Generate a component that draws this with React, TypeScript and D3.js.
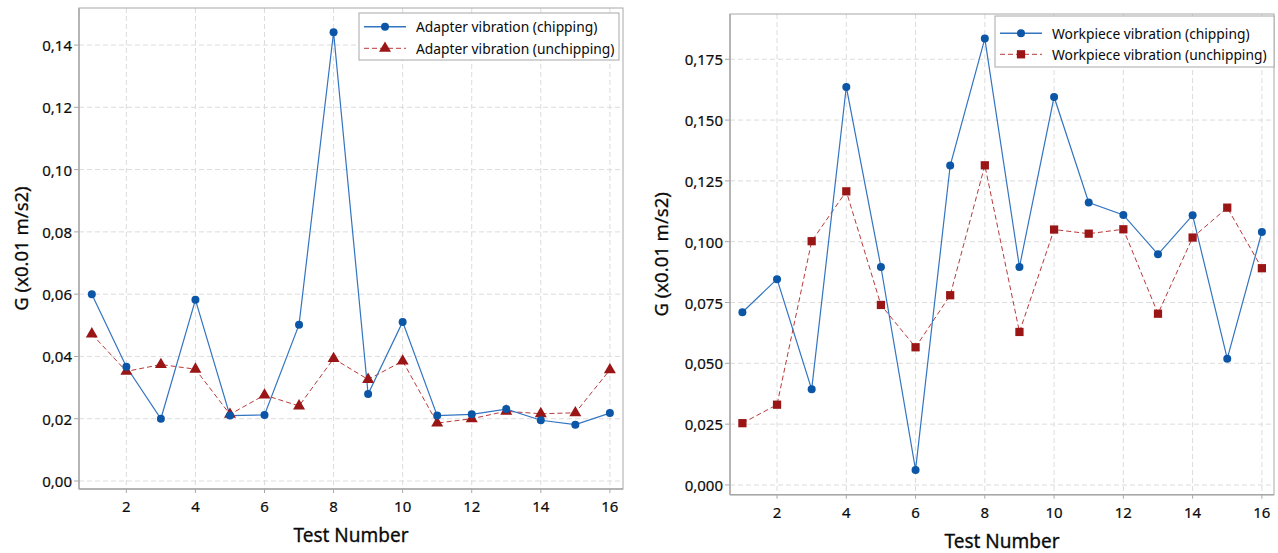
import React from "react";
import * as d3 from "d3";

// ---------- data ----------
const testNumbers = [1, 2, 3, 4, 5, 6, 7, 8, 9, 10, 11, 12, 13, 14, 15, 16];
const xTickValues = [2, 4, 6, 8, 10, 12, 14, 16];

const adapterChipping = [0.060, 0.0367, 0.020, 0.0582, 0.021, 0.0212, 0.0502, 0.1441, 0.0279, 0.0511, 0.021, 0.0214, 0.0231, 0.0195, 0.0181, 0.0218];
const adapterUnchipping = [0.0472, 0.0352, 0.0374, 0.0359, 0.0214, 0.0276, 0.0241, 0.0393, 0.0326, 0.0385, 0.0186, 0.020, 0.0224, 0.0216, 0.0219, 0.0357];
const adapterYTicks = [0, 0.02, 0.04, 0.06, 0.08, 0.1, 0.12, 0.14];

const workpieceChipping = [0.0710, 0.0846, 0.0393, 0.1636, 0.0896, 0.0062, 0.1313, 0.1835, 0.0896, 0.1595, 0.1161, 0.1110, 0.0948, 0.1109, 0.0519, 0.1040];
const workpieceUnchipping = [0.0254, 0.0330, 0.1002, 0.1207, 0.0740, 0.0566, 0.0780, 0.1314, 0.0629, 0.1050, 0.1033, 0.1051, 0.0704, 0.1017, 0.1140, 0.0891];
const workpieceYTicks = [0, 0.025, 0.05, 0.075, 0.1, 0.125, 0.15, 0.175];

const adapterLabels = ["Adapter vibration (chipping)", "Adapter vibration (unchipping)"];
const workpieceLabels = ["Workpiece vibration (chipping)", "Workpiece vibration (unchipping)"];
const xTitle = "Test Number";
const yTitle = "G (x0.01 m/s2)";

// ---------- style ----------
const FONT = "'Noto Sans', 'Open Sans', sans-serif";
const BLUE_LINE = "#3374c0";
const BLUE_MARK = "#0b56a6";
const RED_LINE = "#b83a3a";
const RED_MARK = "#9a1515";
const GRID = "#dcdcdc";
const FRAME = "#a8a8a8";
const TEXT = "#0a0a0a";

type PanelProps = {
  left: number; top: number; right: number; bottom: number;
  xDomain: [number, number]; yDomain: [number, number];
  yTicks: number[]; decimals: number;
  chipping: number[]; unchipping: number[];
  labels: string[];
  unchipShape: "triangle" | "square";
  legend: { x0: number; y0: number; x1: number; y1: number; row1: number; row2: number };
  yTitleX: number;
};

function Panel(p: PanelProps) {
  const x = d3.scaleLinear().domain(p.xDomain).range([p.left, p.right]);
  const y = d3.scaleLinear().domain(p.yDomain).range([p.bottom, p.top]);
  const fmt = (v: number) => v.toFixed(p.decimals).replace(".", ",");
  const line = d3.line<number>().x((_, i) => x(testNumbers[i])).y((d) => y(d));
  const symType = p.unchipShape === "triangle" ? d3.symbolTriangle : d3.symbolSquare;
  const symSize = p.unchipShape === "triangle" ? 62 : 68;
  const sym = d3.symbol().type(symType).size(symSize)() as string;
  const cx = (p.left + p.right) / 2;
  const cy = (p.top + p.bottom) / 2;
  const lg = p.legend;
  const sampleX0 = lg.x0 + 5;
  const sampleX1 = lg.x0 + 47;
  const sampleMid = (sampleX0 + sampleX1) / 2;
  return (
    <g>
      {/* gridlines */}
      {xTickValues.map((t) => (
        <line key={"gx" + t} x1={x(t)} x2={x(t)} y1={p.top} y2={p.bottom} stroke={GRID} strokeWidth={1} strokeDasharray="5,3" />
      ))}
      {p.yTicks.map((t) => (
        <line key={"gy" + t} x1={p.left} x2={p.right} y1={y(t)} y2={y(t)} stroke={GRID} strokeWidth={1} strokeDasharray="5,3" />
      ))}
      {/* frame */}
      <rect x={p.left} y={p.top} width={p.right - p.left} height={p.bottom - p.top} fill="none" stroke={FRAME} strokeWidth={1} />
      <line x1={p.left} x2={p.left} y1={p.top} y2={p.bottom} stroke={FRAME} strokeWidth={1.4} />
      <line x1={p.left} x2={p.right} y1={p.bottom} y2={p.bottom} stroke={FRAME} strokeWidth={1.4} />
      {/* ticks */}
      {p.yTicks.map((t) => (
        <g key={"ty" + t}>
          <line x1={p.left - 5} x2={p.left} y1={y(t)} y2={y(t)} stroke={FRAME} strokeWidth={1} />
          <text x={p.left - 7} y={y(t)} textAnchor="end" dominantBaseline="central" fontFamily={FONT} fontSize={15} fill={TEXT} stroke={TEXT} strokeWidth={0.2}>
            {fmt(t)}
          </text>
        </g>
      ))}
      {xTickValues.map((t) => (
        <g key={"tx" + t}>
          <line x1={x(t)} x2={x(t)} y1={p.bottom} y2={p.bottom + 4} stroke={FRAME} strokeWidth={1} />
          <text x={x(t)} y={p.bottom + 17} textAnchor="middle" dominantBaseline="central" fontFamily={FONT} fontSize={15} fill={TEXT} stroke={TEXT} strokeWidth={0.2}>
            {t}
          </text>
        </g>
      ))}
      {/* axis titles */}
      <text x={cx} y={p.bottom + 46} textAnchor="middle" dominantBaseline="central" fontFamily={FONT} fontSize={19} fill={TEXT} stroke={TEXT} strokeWidth={0.3}>
        {xTitle}
      </text>
      <text transform={`translate(${p.yTitleX},${cy}) rotate(-90)`} textAnchor="middle" dominantBaseline="central" fontFamily={FONT} fontSize={18.5} fill={TEXT} stroke={TEXT} strokeWidth={0.3}>
        {yTitle}
      </text>
      {/* series */}
      <path d={line(p.unchipping) as string} fill="none" stroke={RED_LINE} strokeWidth={1} strokeDasharray="5,3" />
      <path d={line(p.chipping) as string} fill="none" stroke={BLUE_LINE} strokeWidth={1.2} />
      {p.unchipping.map((v, i) => (
        <path key={"u" + i} d={sym} transform={`translate(${x(testNumbers[i])},${y(v)})`} fill={RED_MARK} />
      ))}
      {p.chipping.map((v, i) => (
        <circle key={"c" + i} cx={x(testNumbers[i])} cy={y(v)} r={4} fill={BLUE_MARK} />
      ))}
      {/* legend */}
      <rect x={lg.x0} y={lg.y0} width={lg.x1 - lg.x0} height={lg.y1 - lg.y0} fill="#fff" stroke={FRAME} strokeWidth={1} />
      <line x1={sampleX0} x2={sampleX1} y1={lg.row1} y2={lg.row1} stroke={BLUE_LINE} strokeWidth={1.4} />
      <circle cx={sampleMid} cy={lg.row1} r={4} fill={BLUE_MARK} />
      <text x={lg.x0 + 57} y={lg.row1} dominantBaseline="central" fontFamily={FONT} fontSize={13.8} fill={TEXT}>
        {p.labels[0]}
      </text>
      <line x1={sampleX0} x2={sampleX1} y1={lg.row2} y2={lg.row2} stroke={RED_LINE} strokeWidth={1} strokeDasharray="5,3" />
      <path d={sym} transform={`translate(${sampleMid},${lg.row2})`} fill={RED_MARK} />
      <text x={lg.x0 + 57} y={lg.row2} dominantBaseline="central" fontFamily={FONT} fontSize={13.8} fill={TEXT}>
        {p.labels[1]}
      </text>
    </g>
  );
}

export default function App() {
  return (
    <svg width={1278} height={553} style={{ position: "absolute", left: 0, top: 0, background: "#fff" }}>
      <rect width={1278} height={553} fill="#fff" />
      <Panel
        left={79} top={8} right={623} bottom={489}
        xDomain={[0.629, 16.38]} yDomain={[-0.00257, 0.1519]}
        yTicks={adapterYTicks} decimals={2}
        chipping={adapterChipping} unchipping={adapterUnchipping}
        labels={adapterLabels} unchipShape="triangle"
        legend={{ x0: 359, y0: 13, x1: 619, y1: 60, row1: 26.7, row2: 48.3 }}
        yTitleX={20}
      />
      <Panel
        left={730} top={14} right={1274} bottom={494.7}
        xDomain={[0.642, 16.35]} yDomain={[-0.004, 0.1936]}
        yTicks={workpieceYTicks} decimals={3}
        chipping={workpieceChipping} unchipping={workpieceUnchipping}
        labels={workpieceLabels} unchipShape="square"
        legend={{ x0: 995, y0: 16, x1: 1274, y1: 67, row1: 33.3, row2: 54.3 }}
        yTitleX={660}
      />
    </svg>
  );
}
